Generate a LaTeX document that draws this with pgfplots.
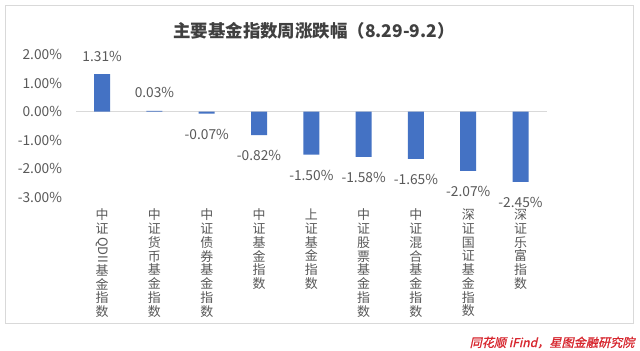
\documentclass[border=0pt]{standalone}
\usepackage{fontspec}
\usepackage{pgfplots}
\usepackage{graphicx}
\pgfplotsset{compat=1.18}
\setmainfont{Noto Sans CJK SC}
\newfontfamily\cjk{Noto Sans CJK SC}
\newfontfamily\footfont[FakeSlant=0.22,FakeBold=1]{Noto Sans CJK SC}
\definecolor{barblue}{HTML}{4472C4}
\definecolor{zerogray}{HTML}{D9D9D9}
\definecolor{framegray}{HTML}{D9D9D9}
\definecolor{txtgray}{HTML}{595959}
\definecolor{titlegray}{HTML}{404040}
\definecolor{footred}{HTML}{D7262E}
\newcommand{\lab}{\cjk\fontsize{13.8}{16}\selectfont}
\newcommand{\cat}{\cjk\fontsize{13}{13.8}\selectfont}
\begin{document}
\begin{tikzpicture}
\fill[white] (0bp,0bp) rectangle (640bp,351bp);
\draw[framegray, line width=0.8bp] (5bp,28bp) rectangle (633bp,346bp);
\node[font=\cjk\bfseries\fontsize{17.5}{20}\selectfont, text=titlegray] at (314bp,320bp) {主要基金指数周涨跌幅（8.29-9.2）};
\begin{axis}[
  at={(76bp,153.5bp)}, anchor=south west,
  scale only axis, width=470.7bp, height=143bp,
  xmin=-0.5, xmax=8.5, ymin=-3, ymax=2,
  axis line style={draw=none},
  major tick length=0pt,
  clip=false,
  ytick={-3,-2,-1,0,1,2},
  yticklabels={-3.00\%,-2.00\%,-1.00\%,0.00\%,1.00\%,2.00\%},
  yticklabel style={font=\lab, text=txtgray, xshift=-10.5bp},
  xtick={0,1,2,3,4,5,6,7,8},
  xticklabels={
    {中\\证\\\raisebox{10bp}{\rotatebox{-90}{QDII}}\\基\\金\\指\\数},
    {中\\证\\货\\币\\基\\金\\指\\数},
    {中\\证\\债\\券\\基\\金\\指\\数},
    {中\\证\\基\\金\\指\\数},
    {上\\证\\基\\金\\指\\数},
    {中\\证\\股\\票\\基\\金\\指\\数},
    {中\\证\\混\\合\\基\\金\\指\\数},
    {深\\证\\国\\证\\基\\金\\指\\数},
    {深\\证\\乐\\富\\指\\数}},
  xticklabel style={font=\cat, text=txtgray, align=center, anchor=north, inner sep=0.5bp, yshift=-10.8bp},
]
\draw[zerogray, line width=0.8bp] (axis cs:-0.5,0) -- (axis cs:8.5,0);
\addplot[ybar, bar width=16bp, bar shift=0pt, fill=barblue, draw=none,
  point meta=explicit symbolic, nodes near coords,
  every node near coord/.append style={anchor=center, inner sep=0.5bp, yshift=18bp, font=\lab, text=txtgray}]
  coordinates {(0,1.31) [1.31\%] (1,0.03) [0.03\%]};
\addplot[ybar, bar width=16bp, bar shift=0pt, fill=barblue, draw=none,
  point meta=explicit symbolic, nodes near coords,
  every node near coord/.append style={anchor=center, inner sep=0.5bp, yshift=-20.5bp, font=\lab, text=txtgray}]
  coordinates {(2,-0.07) [-0.07\%] (3,-0.82) [-0.82\%] (4,-1.50) [-1.50\%] (5,-1.58) [-1.58\%] (6,-1.65) [-1.65\%] (7,-2.07) [-2.07\%] (8,-2.45) [-2.45\%]};
\end{axis}
\node[font=\footfont\fontsize{12.2}{14}\selectfont, text=footred, anchor=east] at (638bp,8.5bp) {同花顺 iFind，星图金融研究院};
\pgfresetboundingbox
\useasboundingbox (0bp,0bp) rectangle (640bp,351bp);
\end{tikzpicture}
\end{document}
